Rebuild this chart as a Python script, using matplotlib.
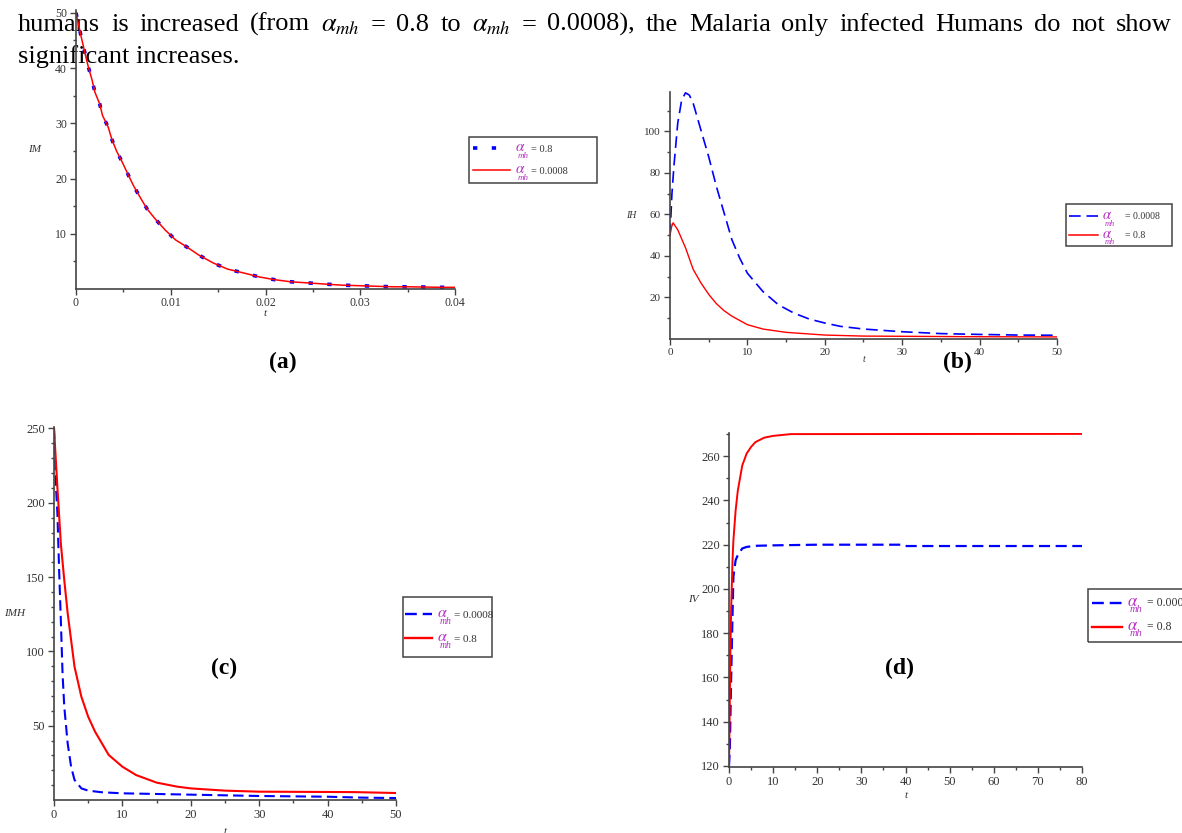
import matplotlib
matplotlib.use("Agg")
import matplotlib.pyplot as plt
from matplotlib.lines import Line2D
from matplotlib.patches import Rectangle

plt.rcParams['font.family'] = ['Liberation Serif', 'DejaVu Serif']
plt.rcParams['mathtext.fontset'] = 'stix'

# ---- data ----
# (a) IM vs t, both alpha values give the same curve
t_a = [0, 0.0005, 0.001, 0.0013, 0.0017, 0.002, 0.0025, 0.0028, 0.0034, 0.0038, 0.0043,
       0.0049, 0.0055, 0.0061, 0.0068, 0.0075, 0.0084, 0.0094, 0.0105, 0.0117, 0.013,
       0.0145, 0.016, 0.0177, 0.0193, 0.0209, 0.0227, 0.0245, 0.0262, 0.028, 0.0298,
       0.0316, 0.0334, 0.0351, 0.0369, 0.0387, 0.04]
im_a_08 = [50, 46, 42.3, 40.2, 37.8, 35.6, 33.5, 31.4, 29.3, 27.0, 24.9, 22.9, 20.7, 18.6,
           16.5, 14.5, 12.6, 10.7, 8.9, 7.6, 6.1, 4.7, 3.6, 2.9, 2.2, 1.7, 1.3, 1.1, 0.9,
           0.7, 0.6, 0.5, 0.4, 0.4, 0.35, 0.3, 0.3]
im_a_00008 = im_a_08

# (b) IH vs t
t_b_blue = [0, 0.25, 0.5, 1, 1.5, 2, 2.5, 3, 4, 5, 6, 7, 8, 9, 10, 12, 14, 16, 18, 20,
            22, 25, 30, 35, 40, 45, 50]
ih_00008 = [50, 70, 83, 104, 115, 118.6, 117.5, 113.5, 100.6, 87.8, 73.4, 60.6, 47.8, 39,
            31.7, 22.9, 16.5, 12.5, 9.6, 7.7, 6.1, 4.8, 3.5, 2.6, 2.2, 1.9, 1.8]
t_b_red = [0, 0.2, 0.4, 1, 2, 3, 4, 5, 6, 7, 8, 10, 12, 15, 20, 25, 30, 40, 50]
ih_08 = [50, 54, 56, 52.6, 44, 33.5, 27, 21.5, 17, 13.6, 11, 6.9, 4.8, 3.2, 1.9, 1.4,
         1.3, 1.1, 1.0]

# (c) IMH vs t
t_c_blue = [0, 0.3, 0.5, 0.75, 1, 1.25, 1.5, 2, 2.5, 3, 4, 5, 7, 10, 20, 30, 40, 45, 50]
imh_00008 = [250, 210, 192.6, 154.5, 121, 85, 62.8, 38, 22.4, 13.5, 7.8, 6.3, 5.2, 4.5,
             3.6, 2.7, 2.2, 1.6, 1.3]
t_c_red = [0, 0.3, 0.5, 1, 1.5, 2, 3, 4, 5, 6, 8, 10, 12, 15, 18, 20, 25, 30, 40, 44, 50]
imh_08 = [250, 226, 210, 172.6, 148, 125.6, 89.7, 69.5, 56, 46, 30.3, 22.4, 16.8, 11.7,
          9, 7.8, 6.3, 5.6, 5.4, 5.3, 4.7]

# (d) IV vs t
t_d_blue = [0, 0.2, 0.4, 0.6, 0.8, 1, 1.5, 2, 3, 4, 6, 10, 20, 39, 40, 80]
iv_00008 = [120, 128.7, 151, 170.6, 188.7, 205.6, 213, 215.3, 218.3, 219, 219.5, 219.7,
            220, 220, 219.4, 219.4]
t_d_red = [0, 0.1, 0.3, 0.5, 0.8, 1, 1.5, 2, 3, 4, 5, 6, 8, 10, 14, 80]
iv_08 = [120, 134.8, 170.6, 191.8, 213, 222, 235.5, 244.5, 255.8, 261.2, 264.2, 266.4,
         268.4, 269.2, 270, 270.1]

xt_a = [0, 0.01, 0.02, 0.03, 0.04]
xtl_a = ['0', '0.01', '0.02', '0.03', '0.04']
yt_a = [10, 20, 30, 40, 50]
xt_b = [0, 10, 20, 30, 40, 50]
yt_b = [20, 40, 60, 80, 100]
yt_c = [50, 100, 150, 200, 250]
xt_d = [0, 10, 20, 30, 40, 50, 60, 70, 80]
yt_d = [120, 140, 160, 180, 200, 220, 240, 260]

body_line2 = ("humans is increased (from $\\alpha_{mh}$ = 0.8 to $\\alpha_{mh}$ = 0.0008), "
              "the Malaria only infected Humans do not show")
body_line3 = "significant increases."

W, H = 1182, 833
fig = plt.figure(figsize=(W / 100, H / 100), dpi=100)

BLUE = '#0000ff'
RED = '#ff0000'
MAG = '#b530c0'
TXT = '#333333'


def fx(x):
    return x / W


def fy(y):
    return 1 - y / H


def make_axes(l, r, t, b):
    ax = fig.add_axes([l / W, 1 - b / H, (r - l) / W, (b - t) / H])
    ax.patch.set_alpha(0)
    for s in ['top', 'right']:
        ax.spines[s].set_visible(False)
    for s in ['left', 'bottom']:
        ax.spines[s].set_color('#444444')
        ax.spines[s].set_linewidth(1.2)
    ax.tick_params(which='major', direction='out', length=4.5, width=1.0, color='#444444',
                   labelcolor=TXT, pad=2)
    ax.tick_params(which='minor', direction='out', length=2.2, width=1.0, color='#444444')
    return ax


def put_labels(ax, box, xlab, xpos, ylab, ypos, fs):
    l, r, t, b = box
    ax.set_xlabel(xlab, fontsize=fs, style='italic', color=TXT)
    ax.set_ylabel(ylab, fontsize=fs, style='italic', color=TXT, rotation=0,
                  ha='center', va='center')
    ax.xaxis.set_label_coords((xpos[0] - l) / (r - l), (b - xpos[1]) / (b - t))
    ax.yaxis.set_label_coords((ypos[0] - l) / (r - l), (b - ypos[1]) / (b - t))
    ax.xaxis.label.set_va('center')


def draw_legend(box, rows, line_x, ax_x, eq_x, fs):
    x0, y0, x1, y1 = box
    fig.add_artist(Rectangle((fx(x0), fy(y1)), (x1 - x0) / W, (y1 - y0) / H,
                             transform=fig.transFigure, fill=False, ec='#444444', lw=1.1))
    for y, color, ls, lw, value in rows:
        fig.add_artist(Line2D([fx(line_x[0]), fx(line_x[1])], [fy(y), fy(y)],
                              transform=fig.transFigure, color=color, ls=ls, lw=lw))
        fig.text(fx(ax_x), fy(y + 3), '$\\alpha$', color=MAG, fontsize=fs + 3.5,
                 va='baseline')
        fig.text(fx(ax_x + 2.5), fy(y + 9.5), 'mh', color=MAG, fontsize=fs - 1,
                 style='italic', va='baseline')
        fig.text(fx(eq_x), fy(y + 3.5), '= ' + value, color=TXT, fontsize=fs,
                 va='baseline')


# ---- (a) ----
box_a = (76, 455, 10, 289)
ax = make_axes(*box_a)
ax.plot(t_a, im_a_08, color=BLUE, lw=2.6, ls=(0, (1.2, 4)))
ax.plot(t_a, im_a_00008, color=RED, lw=1.1)
ax.set_xlim(0, 0.04)
ax.set_ylim(0, 50.5)
ax.set_xticks(xt_a, xtl_a)
ax.set_xticks([0.005, 0.015, 0.025, 0.035], minor=True)
ax.set_yticks(yt_a)
ax.set_yticks([5, 15, 25, 35, 45], minor=True)
ax.tick_params(labelsize=8.5)
ax.tick_params(axis='x', pad=1)
put_labels(ax, box_a, 't', (265, 313), 'IM', (35, 150), 8)
draw_legend((469, 137, 597, 183),
            [(148, BLUE, (0, (1.2, 4)), 2.6, '0.8'), (170, RED, '-', 1.1, '0.0008')],
            (473, 510), 515, 531, 7.5)

# ---- (b) ----
box_b = (670, 1057, 92, 339)
ax = make_axes(*box_b)
ax.plot(t_b_blue, ih_00008, color=BLUE, lw=1.2, ls=(0, (7, 3.5)))
ax.plot(t_b_red, ih_08, color=RED, lw=1.0)
ax.set_xlim(0, 50)
ax.set_ylim(0, 119)
ax.set_xticks(xt_b)
ax.set_xticks([5, 15, 25, 35, 45], minor=True)
ax.set_yticks(yt_b)
ax.set_yticks([10, 30, 50, 70, 90, 110], minor=True)
ax.tick_params(labelsize=8)
put_labels(ax, box_b, 't', (864, 360), 'IH', (631, 216), 7)
draw_legend((1066, 204, 1172, 246),
            [(216, BLUE, (0, (7, 3.5)), 1.2, '0.0008'), (235, RED, '-', 1.1, '0.8')],
            (1069, 1098), 1102, 1125, 7)

# ---- (c) ----
box_c = (54, 396, 427, 800)
ax = make_axes(*box_c)
ax.plot(t_c_blue, imh_00008, color=BLUE, lw=1.5, ls=(0, (5, 2.5)))
ax.plot(t_c_red, imh_08, color=RED, lw=1.5)
ax.set_xlim(0, 50)
ax.set_ylim(0, 251)
ax.set_xticks(xt_b)
ax.set_xticks([5, 15, 25, 35, 45], minor=True)
ax.set_yticks(yt_c)
ax.set_yticks([v for v in range(10, 250, 10) if v % 50], minor=True)
ax.tick_params(labelsize=9)
put_labels(ax, box_c, 't', (225, 831), 'IMH', (15, 613), 8)
draw_legend((403, 597, 492, 657),
            [(614, BLUE, (0, (5, 2.5)), 1.7, '0.0008'), (638, RED, '-', 1.7, '0.8')],
            (405, 432), 437, 454, 8)

# ---- (d) ----
box_d = (729, 1082, 433, 767)
ax = make_axes(*box_d)
ax.plot(t_d_blue, iv_00008, color=BLUE, lw=1.6, ls=(0, (5, 2.5)))
ax.plot(t_d_red, iv_08, color=RED, lw=1.4)
ax.set_xlim(0, 80)
ax.set_ylim(119.5, 270.5)
ax.set_xticks(xt_d)
ax.set_xticks([5, 15, 25, 35, 45, 55, 65, 75], minor=True)
ax.set_yticks(yt_d)
ax.set_yticks([130, 150, 170, 190, 210, 230, 250, 270], minor=True)
ax.tick_params(labelsize=9)
put_labels(ax, box_d, 't', (906, 795), 'IV', (693, 600), 8)
draw_legend((1088, 589, 1195, 642),
            [(603, BLUE, (0, (5, 2.5)), 1.7, '0.0008'), (627, RED, '-', 1.7, '0.8')],
            (1092, 1122), 1127, 1147, 8.5)

# ---- panel letters ----
for lab, (x, y) in zip(['(a)', '(b)', '(c)', '(d)'],
                       [(283, 362), (957, 362), (224, 668), (899, 668)]):
    fig.text(fx(x), fy(y), lab, fontsize=17, fontweight='bold', ha='center', va='center')

# ---- body text, line 2 justified between x=18 and x=1172 ----
renderer = fig.canvas.get_renderer()
words = body_line2.split(' ')
items = [fig.text(0, fy(31), w, fontsize=19, va='baseline', zorder=-1) for w in words]
widths = [it.get_window_extent(renderer).width for it in items]
gap = (1172 - 18 - sum(widths)) / (len(words) - 1)
x = 18
for it, w in zip(items, widths):
    it.set_x(fx(x))
    x += w + gap
fig.text(fx(18), fy(63), body_line3, fontsize=19, va='baseline', zorder=-1)

fig.savefig('out.png', dpi=100)
